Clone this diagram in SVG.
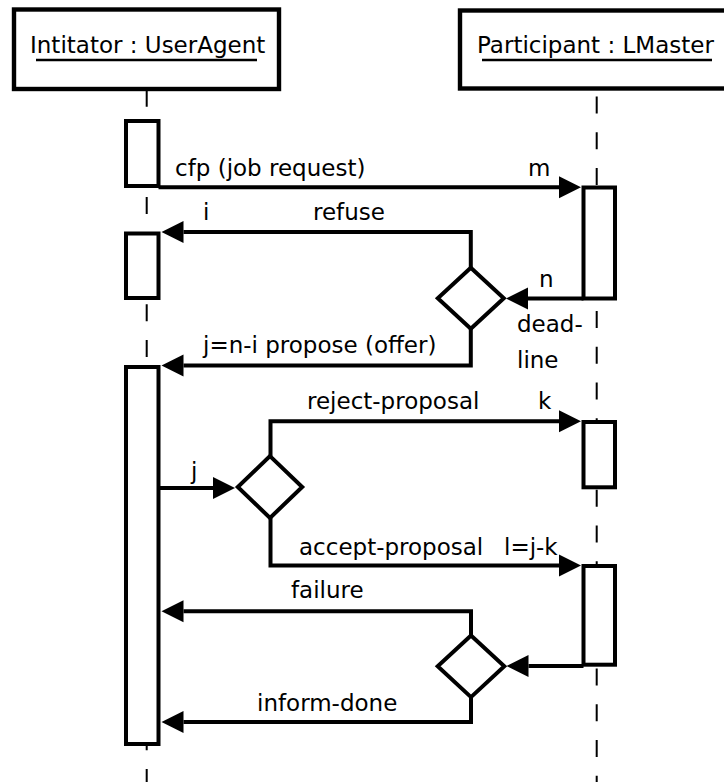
<svg xmlns="http://www.w3.org/2000/svg" width="724" height="782" viewBox="0 0 724 782">
  <style>
    .head { fill: #fff; stroke: #000; stroke-width: 4.4; }
    .life { stroke: #000; stroke-width: 2; stroke-dasharray: 17 18.75; fill: none; }
    .act { fill: #fff; stroke: #000; stroke-width: 4; }
    .dec { fill: #fff; stroke: #000; stroke-width: 4; stroke-linejoin: miter; }
    .msg { fill: none; stroke: #000; stroke-width: 4; marker-end: url(#head); }
    .ul { stroke: #000; stroke-width: 2.4; }
    text { font-family: "DejaVu Sans", "Liberation Sans", sans-serif; font-size: 23px; fill: #000; }
  </style>
  <defs>
    <marker id="head" markerUnits="userSpaceOnUse" markerWidth="23" markerHeight="24" refX="0" refY="11" orient="auto" overflow="visible">
      <path d="M0,0 L22,11 L0,22 z" fill="#000"/>
    </marker>
  </defs>
  <rect width="724" height="782" fill="#fff"/>

  <!-- lifeline: Intitator -->
  <g id="initiator">
    <line class="life" x1="146.7" y1="89.75" x2="146.7" y2="782"/>
    <rect class="head" x="14" y="9.5" width="265" height="79.5"/>
    <text x="30" y="53.3">Intitator : UserAgent</text>
    <line class="ul" x1="36" y1="60" x2="257" y2="60"/>
  </g>

  <!-- lifeline: Participant -->
  <g id="participant">
    <line class="life" x1="596.7" y1="96.5" x2="596.7" y2="782"/>
    <rect class="head" x="460" y="10.5" width="280" height="78"/>
    <text x="477" y="53.3">Participant : LMaster</text>
    <line class="ul" x1="482" y1="60" x2="712" y2="60"/>
  </g>

  <!-- activations -->
  <g id="act-init-1"><rect class="act" x="126" y="121" width="32.5" height="65"/></g>
  <g id="act-init-2"><rect class="act" x="126" y="233.5" width="32.5" height="64.5"/></g>
  <g id="act-init-3"><rect class="act" x="126" y="367" width="32.5" height="377"/></g>
  <g id="act-part-1"><rect class="act" x="583.5" y="187.5" width="31.5" height="111"/></g>
  <g id="act-part-2"><rect class="act" x="583.5" y="422" width="31.5" height="65.3"/></g>
  <g id="act-part-3"><rect class="act" x="583.5" y="566" width="31.5" height="98.7"/></g>

  <!-- messages -->
  <g id="connectors">
    <path class="msg" d="M158.5,187.2 H559"/>
    <path class="msg" d="M470.8,267.8 V232 H183.5"/>
    <path class="msg" d="M583.5,298.5 H528"/>
    <path class="msg" d="M470.8,328.8 V365.5 H183.5"/>
    <path class="msg" d="M158.5,488 H213"/>
    <path class="msg" d="M270.5,456.1 V421.3 H559"/>
    <path class="msg" d="M270.5,517.9 V565.5 H559"/>
    <path class="msg" d="M471,635.5 V611.2 H183.5"/>
    <path class="msg" d="M583.5,666 H528.5"/>
    <path class="msg" d="M471,697.1 V722 H183.5"/>

    <text x="175" y="176">cfp (job request)</text>
    <text x="528" y="176">m</text>
    <text x="203" y="220">i</text>
    <text x="313" y="220">refuse</text>
    <text x="539" y="287">n</text>
    <text x="517" y="332">dead-</text>
    <text x="517" y="368">line</text>
    <text x="203" y="353">j=n-i propose (offer)</text>
    <text x="307" y="409">reject-proposal</text>
    <text x="538" y="409">k</text>
    <text x="191" y="479">j</text>
    <text x="299" y="555">accept-proposal</text>
    <text x="504" y="555">l=j-k</text>
    <text x="291" y="598">failure</text>
    <text x="257" y="711">inform-done</text>
  </g>

  <!-- decisions -->
  <g id="decision-1"><polygon class="dec" points="470.8,267.8 503.8,298.3 470.8,328.8 437.8,298.3"/></g>
  <g id="decision-2"><polygon class="dec" points="270,456.1 302.2,487 270,517.9 237.8,487"/></g>
  <g id="decision-3"><polygon class="dec" points="471,635.5 504.3,666.3 471,697.1 437.7,666.3"/></g>
</svg>
